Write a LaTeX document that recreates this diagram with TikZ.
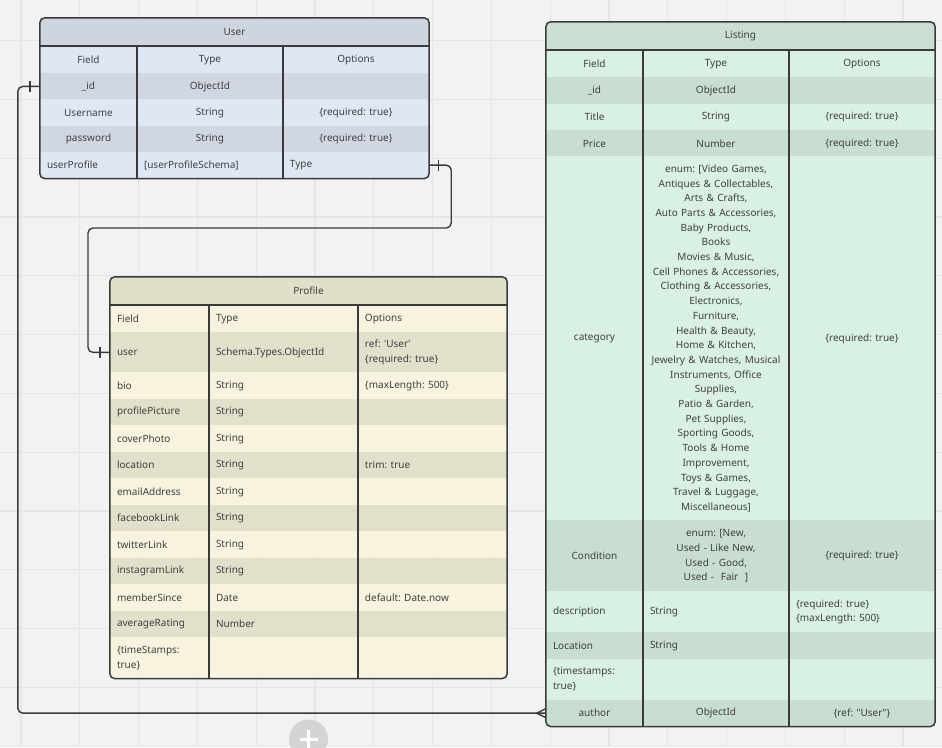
\documentclass[tikz,border=0pt]{standalone}
\usepackage{fontspec}
\setmainfont{Noto Sans}
\usetikzlibrary{matrix}

\definecolor{bgc}{HTML}{F2F2F2}
\definecolor{gridc}{HTML}{E5E5E5}
\definecolor{linec}{HTML}{3A3A3A}
\definecolor{textc}{HTML}{404040}
\definecolor{userH}{HTML}{CDD3DE}
\definecolor{userL}{HTML}{DEE7F6}
\definecolor{userD}{HTML}{CED5E1}
\definecolor{profH}{HTML}{E0DEC7}
\definecolor{profL}{HTML}{F8F4DD}
\definecolor{profD}{HTML}{E1DFC8}
\definecolor{listH}{HTML}{C8DDD0}
\definecolor{listL}{HTML}{D7F1E2}
\definecolor{listD}{HTML}{C5DDCE}
\newcommand\tabfont{\fontsize{10}{14.7}\selectfont\frenchspacing}

\begin{document}
\begin{tikzpicture}[x=1pt,y=-1pt]

\tikzstyle{gridline}=[gridc, line width=1.2pt]
\tikzstyle{head}=[minimum height=28pt, inner sep=0pt, font=\tabfont, text=textc, fill opacity=.92, text opacity=1]
\tikzstyle{tab}=[matrix of nodes, nodes in empty cells, inner sep=0pt, anchor=north west,
    nodes={anchor=center, inner xsep=7pt, inner ysep=1pt, align=center, font=\tabfont, text=textc, fill opacity=.92, text opacity=1},
    column 1/.style={nodes={text width=83pt}},
    column 2/.style={nodes={text width=132pt}},
    column 3/.style={nodes={text width=132pt}}]
\tikzstyle{lft}=[align=left]
\tikzstyle{frame}=[linec, line width=1.5pt, rounded corners=5pt]
\tikzstyle{rule}=[linec, line width=1.5pt]
\tikzstyle{rel}=[linec, line width=1.4pt, rounded corners=5pt]

\useasboundingbox (0,0) rectangle (942,747);
\fill[bgc] (0,0) rectangle (942,747);
\foreach \x in {0,...,15} \draw[gridline] (21+58.8*\x,0) -- (21+58.8*\x,747);
\foreach \y in {0,...,12} \draw[gridline] (0,40.5+58.8*\y) -- (942,40.5+58.8*\y);

% row heights of the three tables
\tikzstyle{usertab}=[tab, nodes={fill=userL}, every even row/.style={nodes={fill=userD}}]
\tikzstyle{proftab}=[tab, nodes={fill=profL, align=left}, every even row/.style={nodes={fill=profD}},
    column 1/.style={nodes={text width=85pt}},
    column 2/.style={nodes={text width=135pt}},
    column 3/.style={nodes={text width=135pt}}]
\tikzstyle{listtab}=[tab, nodes={fill=listL}, every even row/.style={nodes={fill=listD}}]
\foreach \h [count=\i] in {27,26,26.5,26,26.5} {
    \globaldefs=1
    \edef\dotikzset{
        \noexpand\tikzset{
            usertab/.append style={
                row \i/.style={
                    nodes={minimum height=\h pt}
                }
            }
        }
    }
    \dotikzset
}
\foreach \h [count=\i] in {27,40,26.5,26.5,26.5,26.5,26.5,26.5,26.5,26.5,26.5,26.5,41} {
    \globaldefs=1
    \edef\dotikzset{
        \noexpand\tikzset{
            proftab/.append style={
                row \i/.style={
                    nodes={minimum height=\h pt}
                }
            }
        }
    }
    \dotikzset
}
\foreach \h [count=\i] in {27,26.5,26.5,26,364,71,41,26.5,41,26.5} {
    \globaldefs=1
    \edef\dotikzset{
        \noexpand\tikzset{
            listtab/.append style={
                row \i/.style={
                    nodes={minimum height=\h pt}
                }
            }
        }
    }
    \dotikzset
}

% User
\node[head, fill=userH, minimum width=389pt] (userhead) at (234.5,32) {User};
\matrix (user) [usertab] at (userhead.south west) {
 Field & Type & Options \\
 \_id & ObjectId & \\
 Username & String & \{required: true\} \\
 password & String & \{required: true\} \\
 |[lft]| userProfile & |[lft]| {[userProfileSchema]} & |[lft]| Type \\
};
\draw[frame] (userhead.north west) rectangle (user.south east);
\draw[rule] (userhead.south west) -- (userhead.south east)
    (user-1-2.north west) -- (user-5-2.south west)
    (user-1-3.north west) -- (user-5-3.south west);

% Profile
\node[head, fill=profH, minimum width=397pt] (profhead) at (308.5,291) {Profile};
\matrix (profile) [proftab] at (profhead.south west) {
 Field & Type & Options \\
 user & Schema.Types.ObjectId & {ref: \textquotesingle User\textquotesingle\\\{required: true\}} \\
 bio & String & \{maxLength: 500\} \\
 profilePicture & String & \\
 coverPhoto & String & \\
 location & String & trim: true \\
 emailAddress & String & \\
 facebookLink & String & \\
 twitterLink & String & \\
 instagramLink & String & \\
 memberSince & Date & default: Date.now \\
 averageRating & Number & \\
 {\{timeStamps:\\true\}} & & \\
};
\draw[frame] (profhead.north west) rectangle (profile.south east);
\draw[rule] (profhead.south west) -- (profhead.south east)
    (profile-1-2.north west) -- (profile-13-2.south west)
    (profile-1-3.north west) -- (profile-13-3.south west);

% Listing
\node[head, fill=listH, minimum width=389pt] (listhead) at (740.5,36) {Listing};
\matrix (listing) [listtab] at (listhead.south west) {
 Field & Type & Options \\
 \_id & ObjectId & \\
 Title & String & \{required: true\} \\
 Price & Number & \{required: true\} \\
 category & {enum: [Video Games,\\Antiques \& Collectables,\\Arts \& Crafts,\\Auto Parts \& Accessories,\\Baby Products,\\Books\\Movies \& Music,\\Cell Phones \& Accessories,\\Clothing \& Accessories,\\Electronics,\\Furniture,\\Health \& Beauty,\\Home \& Kitchen,\\Jewelry \& Watches, Musical\\Instruments, Office\\Supplies,\\Patio \& Garden,\\Pet Supplies,\\Sporting Goods,\\Tools \& Home\\Improvement,\\Toys \& Games,\\Travel \& Luggage,\\Miscellaneous]} & \{required: true\} \\
 Condition & {enum: [New,\\Used - Like New,\\Used - Good,\\Used -\ \ Fair\ \ ]} & \{required: true\} \\
 |[lft]| description & |[lft]| String & |[lft]| {\{required: true\}\\\{maxLength: 500\}} \\
 |[lft]| Location & |[lft]| String & \\
 |[lft]| {\{timestamps:\\true\}} & & \\
 author & ObjectId & \{ref: \textquotedbl User\textquotedbl\} \\
};
\draw[frame] (listhead.north west) rectangle (listing.south east);
\draw[rule] (listhead.south west) -- (listhead.south east)
    (listing-1-2.north west) -- (listing-10-2.south west)
    (listing-1-3.north west) -- (listing-10-3.south west);

% relations
\coordinate (kink) at (88,228);
\draw[rel] (user-2-1.west) -- ++(-22,0) |- (listing-10-1.west);
\draw[rel] (user-5-3.east) -- ++(22,0) |- (kink) |- (profile-2-1.west);
\draw[rel] ([xshift=-10pt,yshift=5.5pt]user-2-1.west) -- ([xshift=-10pt,yshift=-5.5pt]user-2-1.west);
\draw[rel] ([xshift=9pt,yshift=5.5pt]user-5-3.east) -- ([xshift=9pt,yshift=-5.5pt]user-5-3.east);
\draw[rel] ([xshift=-10pt,yshift=5.5pt]profile-2-1.west) -- ([xshift=-10pt,yshift=-5.5pt]profile-2-1.west);
\draw[rel, sharp corners] ([yshift=4.5pt]listing-10-1.west) -- ([xshift=-9pt]listing-10-1.west) -- ([yshift=-4.5pt]listing-10-1.west);

% add button
\fill[black!17] (308.5,739) circle (19.5);
\draw[white, line width=3pt] (299.5,739) -- (317.5,739) (308.5,730) -- (308.5,748);

\end{tikzpicture}
\end{document}
